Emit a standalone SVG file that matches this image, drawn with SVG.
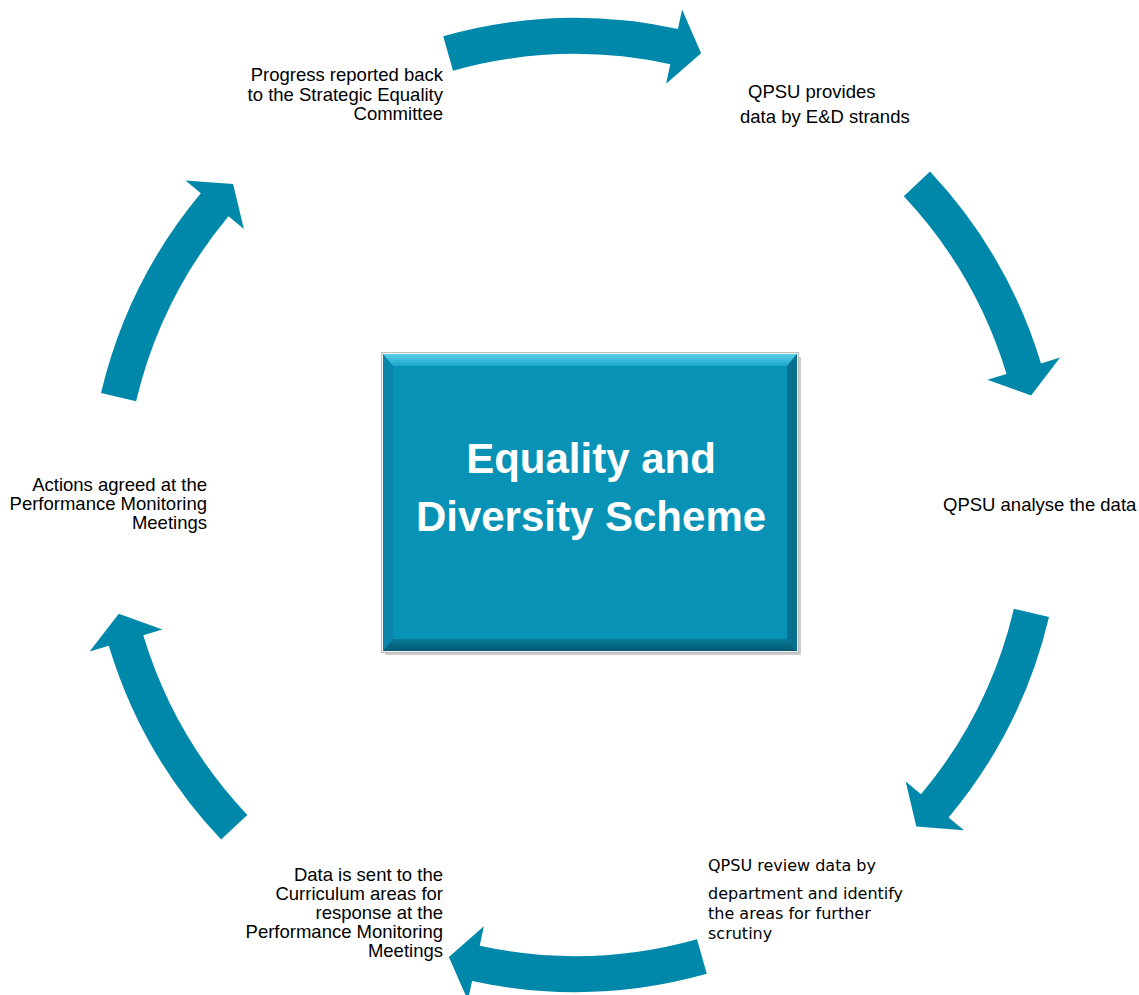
<svg xmlns="http://www.w3.org/2000/svg" width="1139" height="995" viewBox="0 0 1139 995">
  <style>
    .arr { fill: #0088AA; }
    .lbl { font-family: "Liberation Sans", Arial, sans-serif; font-size: 18.5px; fill: #000; }
    .lblv { font-family: "DejaVu Sans", Verdana, sans-serif; font-size: 16px; fill: #000; }
    .r { text-anchor: end; }
    .title { font-family: "Liberation Sans", Arial, sans-serif; font-size: 42px; font-weight: bold; fill: #fff; text-anchor: middle; }
  </style>
  <defs>
    <linearGradient id="topBevel" x1="0" y1="0" x2="0" y2="1">
      <stop offset="0" stop-color="#5BCFEA"/>
      <stop offset="1" stop-color="#1AA6C8"/>
    </linearGradient>
    <linearGradient id="botBevel" x1="0" y1="0" x2="0" y2="1">
      <stop offset="0" stop-color="#077A98"/>
      <stop offset="1" stop-color="#045A72"/>
    </linearGradient>
  </defs>
  <rect width="1139" height="995" fill="#fff"/>

  <g id="connectors">
    <path class="arr" d="M443.2,36.2 A487,487 0 0 1 677.9,29.0 L682.1,9.5 L701.1,53.3 L666.1,83.7 L670.3,64.2 A451,451 0 0 0 453.0,70.8 Z"/>
    <path class="arr" d="M930.0,171.6 A487,487 0 0 1 1041.0,363.4 L1060.1,357.6 L1031.1,395.5 L987.4,379.7 L1006.5,373.9 A451,451 0 0 0 903.8,196.3 Z"/>
    <path class="arr" d="M1049.0,617.0 A487,487 0 0 1 948.6,817.4 L964.0,830.2 L916.3,826.6 L905.7,781.4 L921.0,794.3 A451,451 0 0 0 1013.9,608.7 Z"/>
    <path class="arr" d="M706.8,973.8 A487,487 0 0 1 472.1,981.0 L467.9,1000.5 L448.9,956.9 L483.9,926.3 L479.7,945.8 A451,451 0 0 0 697.0,939.2 Z"/>
    <path class="arr" d="M221.1,839.6 A487,487 0 0 1 108.8,645.7 L89.6,651.5 L118.8,613.7 L162.4,629.6 L143.3,635.3 A451,451 0 0 0 247.3,814.9 Z"/>
    <path class="arr" d="M101.0,393.0 A487,487 0 0 1 200.8,193.3 L185.5,180.5 L233.1,184.0 L243.9,229.1 L228.5,216.3 A451,451 0 0 0 136.1,401.3 Z"/>
  </g>

  <g id="center">
    <rect x="385" y="357" width="416" height="298" fill="#B8B8B8" opacity="0.7"/>
    <rect x="381.5" y="352.5" width="417" height="300" fill="#F2F2F2" stroke="#BDBDBD" stroke-width="1"/>
    <rect x="383" y="354" width="414" height="297" fill="#0892B5"/>
    <polygon points="383,354 797,354 787,366 393,366" fill="url(#topBevel)"/>
    <polygon points="383,354 393,366 393,639 383,651" fill="#0A86A8"/>
    <polygon points="797,354 797,651 787,639 787,366" fill="#06718E"/>
    <polygon points="383,651 393,639 787,639 797,651" fill="url(#botBevel)"/>
    <text class="title" x="591" y="473">Equality and</text>
    <text class="title" x="591" y="531">Diversity Scheme</text>
  </g>

  <g id="step1">
    <text class="lbl" x="748" y="98">QPSU provides</text>
    <text class="lbl" x="740" y="123">data by E&amp;D strands</text>
  </g>
  <g id="step2">
    <text class="lbl" x="943" y="511">QPSU analyse the data</text>
  </g>
  <g id="step3">
    <text class="lblv" x="708" y="871">QPSU review data by</text>
    <text class="lblv" x="708" y="899">department and identify</text>
    <text class="lblv" x="708" y="919">the areas for further</text>
    <text class="lblv" x="708" y="939">scrutiny</text>
  </g>
  <g id="step4">
    <text class="lbl r" x="443" y="881">Data is sent to the</text>
    <text class="lbl r" x="443" y="900">Curriculum areas for</text>
    <text class="lbl r" x="443" y="919">response at the</text>
    <text class="lbl r" x="443" y="938">Performance Monitoring</text>
    <text class="lbl r" x="443" y="957">Meetings</text>
  </g>
  <g id="step5">
    <text class="lbl r" x="207" y="491">Actions agreed at the</text>
    <text class="lbl r" x="207" y="510">Performance Monitoring</text>
    <text class="lbl r" x="207" y="529">Meetings</text>
  </g>
  <g id="step6">
    <text class="lbl r" x="443" y="81">Progress reported back</text>
    <text class="lbl r" x="443" y="101">to the Strategic Equality</text>
    <text class="lbl r" x="443" y="120">Committee</text>
  </g>
</svg>
